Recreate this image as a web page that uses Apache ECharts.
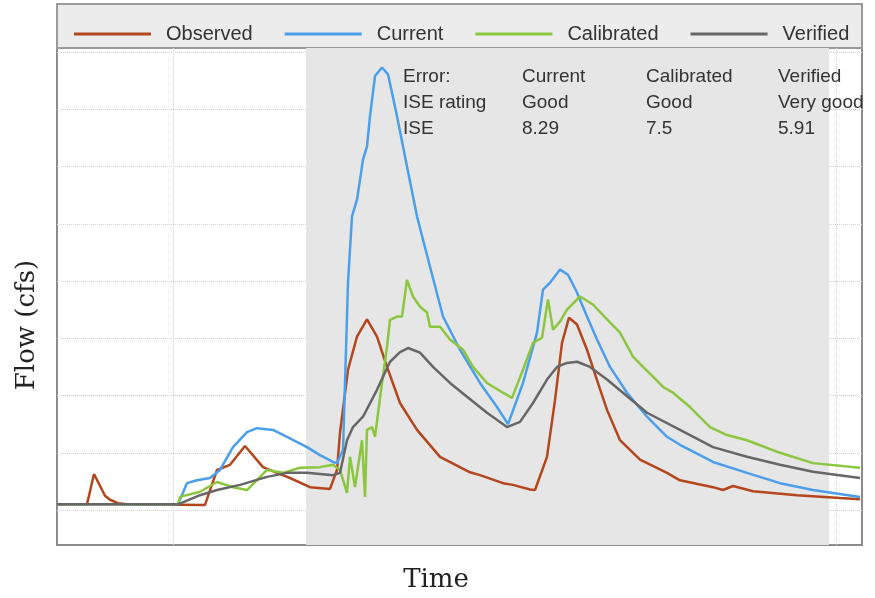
<!DOCTYPE html>
<html>
<head>
<meta charset="utf-8">
<script src="https://cdn.jsdelivr.net/npm/echarts@6/dist/echarts.min.js"></script>
<style>
  html, body { margin: 0; padding: 0; background: #fff; }
  #chart { width: 875px; height: 598px; }
</style>
</head>
<body>
<div id="chart"></div>
<script>
// time in hours, flow in cfs
var seriesNames = ['Observed', 'Current', 'Calibrated', 'Verified'];
var seriesColors = ['#b4461e', '#4b9fea', '#8cc63f', '#666666'];

var observed = [[0,10],[6,10],[6.4,12],[7.4,63],[9.6,25],[10.6,18],[12.2,12],[14,10],[29.6,9],[30,10],
  [32,70],[34.6,79],[37.6,112],[41.2,75],[44,65],[46.6,56],[50.6,40],[54.6,37],[56,70],[56.6,135],
  [58.2,245],[60,303],[62,333],[64,303],[66,250],[68.6,187],[72,140],[76.6,93],[82.6,66],[84.6,61],
  [89.2,47],[91.2,44],[94.6,36],[95.6,35],[98,93],[99.6,192],[101,292],[102.4,336],[104,324],
  [106,280],[108,227],[110,175],[112.6,122],[116.6,88],[122,65],[124.6,52],[131.2,40],[133.2,35],
  [135.2,42],[139.2,33],[148,26],[156.6,21],[160.6,19]];

var current = [[0,10],[24.2,10],[26,47],[28,52],[30.6,56],[32.6,70],[35.2,110],[38,136],[40,143],
  [43.2,140],[46,128],[50,110],[52.6,96],[55.2,84],[56,82],[57.2,105],[58.2,397],[59,513],[60,542],
  [61.2,612],[62,635],[62.6,688],[63.6,758],[65,773],[66.2,761],[68,688],[70,600],[72,513],[74.6,425],
  [77.2,338],[80.6,280],[84.6,222],[88,180],[90.2,150],[93.2,222],[96,310],[97.2,385],[98.6,397],
  [100.6,420],[102.2,411],[104,380],[106,338],[108,298],[110.6,250],[114,205],[118,163],[122,128],
  [124.6,114],[131.2,84],[138,65],[144.6,47],[151.2,35],[160.6,23]];

var calibrated = [[0,10],[24.2,10],[24.6,23],[28.6,32],[32,49],[35.2,40],[38,35],[42,70],[45.2,65],
  [48.6,74],[52.6,75],[55.2,79],[56.6,70],[58,30],[58.6,93],[59.6,40],[61,122],[61.6,23],[62,140],
  [63,145],[63.6,128],[65,222],[66,285],[66.6,332],[68,338],[69,338],[70,402],[71.2,373],[72.6,355],
  [74,345],[74.6,320],[76.6,320],[78.6,298],[81.2,280],[83.2,250],[86,222],[89.2,205],[91,196],
  [93.2,245],[95.2,292],[97,301],[98.2,368],[99.2,315],[100.6,329],[102,350],[104.6,373],[107.2,359],
  [110,333],[112.6,310],[115.2,268],[117.2,250],[119.2,233],[121.2,215],[123.2,205],[126.6,180],
  [130.6,145],[134,131],[138,122],[144.6,100],[151.2,82],[160.6,74]];

var verified = [[0,10],[24.2,10],[28.6,26],[32,35],[36.6,44],[42,58],[46,65],[50,65],[55.2,61],
  [56.6,65],[58,122],[59.2,145],[61.2,163],[64,210],[66.6,259],[68.6,276],[70.2,283],[72.6,275],
  [75.2,250],[78.6,222],[82,198],[86,170],[90,145],[92.6,154],[95.2,187],[98,228],[100,250],[102,257],
  [104,259],[106.6,250],[110,228],[118,170],[124.6,140],[131.2,110],[138,93],[144.6,79],[151.2,67],
  [160.6,56]];

var timeRange = [0, 161];
var flowRange = [-61, 807];
var flowGrid = [0, 100, 200, 300, 400, 500, 600, 700, 800];
var timeGrid = [23.2, 155.8];
var shadeRange = [49.8, 154.4];

var errorColumns = [
  'Error:\nISE rating\nISE',
  'Current\nGood\n8.29',
  'Calibrated\nGood\n7.5',
  'Verified\nVery good\n5.91'
];

var myChart = echarts.init(document.getElementById('chart'));

// dotted grid, split around the shaded period
var gridLines = [];
flowGrid.forEach(function (v) {
  gridLines.push([{ coord: [timeRange[0], v] }, { coord: [shadeRange[0], v] }]);
  gridLines.push([{ coord: [shadeRange[1], v] }, { coord: [timeRange[1], v] }]);
});
timeGrid.forEach(function (t) {
  gridLines.push([{ coord: [t, flowRange[0]] }, { coord: [t, flowRange[1]] }]);
});

var series = [{
  name: 'grid',
  type: 'line',
  data: [],
  silent: true,
  markArea: {
    silent: true,
    z: 0,
    itemStyle: { color: '#e6e6e6' },
    data: [[{ xAxis: shadeRange[0] }, { xAxis: shadeRange[1] }]]
  },
  markLine: {
    silent: true,
    z: 1,
    symbol: 'none',
    label: { show: false },
    lineStyle: { color: '#d2d2d2', type: 'dotted', width: 1 },
    data: gridLines
  }
}];

[observed, current, calibrated, verified].forEach(function (d, i) {
  series.push({
    name: seriesNames[i],
    type: 'line',
    data: d,
    showSymbol: false,
    z: 3,
    lineStyle: { color: seriesColors[i], width: 2.5 },
    itemStyle: { color: seriesColors[i] }
  });
});

var colX = [403, 522, 646, 778];
var graphics = [{
  type: 'rect',
  shape: { x: 57, y: 4, width: 805, height: 44 },
  style: { fill: '#ececec', stroke: '#9a9a9a', lineWidth: 2 },
  z: 0
}, {
  type: 'text',
  x: 27, y: 325,
  rotation: Math.PI / 2,
  style: { text: 'Flow (cfs)', font: '26px "DejaVu Serif"', fill: '#222', align: 'center', verticalAlign: 'middle' }
}, {
  type: 'text',
  x: 436, y: 580,
  style: { text: 'Time', font: '26px "DejaVu Serif"', fill: '#222', align: 'center', verticalAlign: 'middle' }
}];
errorColumns.forEach(function (txt, i) {
  graphics.push({
    type: 'text',
    x: colX[i], y: 64,
    z: 10,
    style: { text: txt, font: '19px "Liberation Sans", Arial', fill: '#333', lineHeight: 26, verticalAlign: 'top' }
  });
});

var option = {
  animation: false,
  backgroundColor: '#fff',
  grid: {
    left: 57, right: 13, top: 48, bottom: 53,
    show: true,
    backgroundColor: '#fff',
    borderColor: '#8c8c8c',
    borderWidth: 2
  },
  legend: {
    data: seriesNames,
    left: 69,
    top: 19,
    icon: 'rect',
    itemWidth: 77,
    itemHeight: 3,
    itemGap: 32,
    textStyle: { fontSize: 20, fontFamily: '"Liberation Sans", Arial', color: '#333', padding: [0, 0, 0, 10] }
  },
  xAxis: {
    type: 'value',
    min: timeRange[0], max: timeRange[1],
    axisLine: { show: false }, axisTick: { show: false },
    axisLabel: { show: false }, splitLine: { show: false }
  },
  yAxis: {
    type: 'value',
    min: flowRange[0], max: flowRange[1],
    axisLine: { show: false }, axisTick: { show: false },
    axisLabel: { show: false }, splitLine: { show: false }
  },
  graphic: graphics,
  series: series
};

myChart.setOption(option);
</script>
</body>
</html>
